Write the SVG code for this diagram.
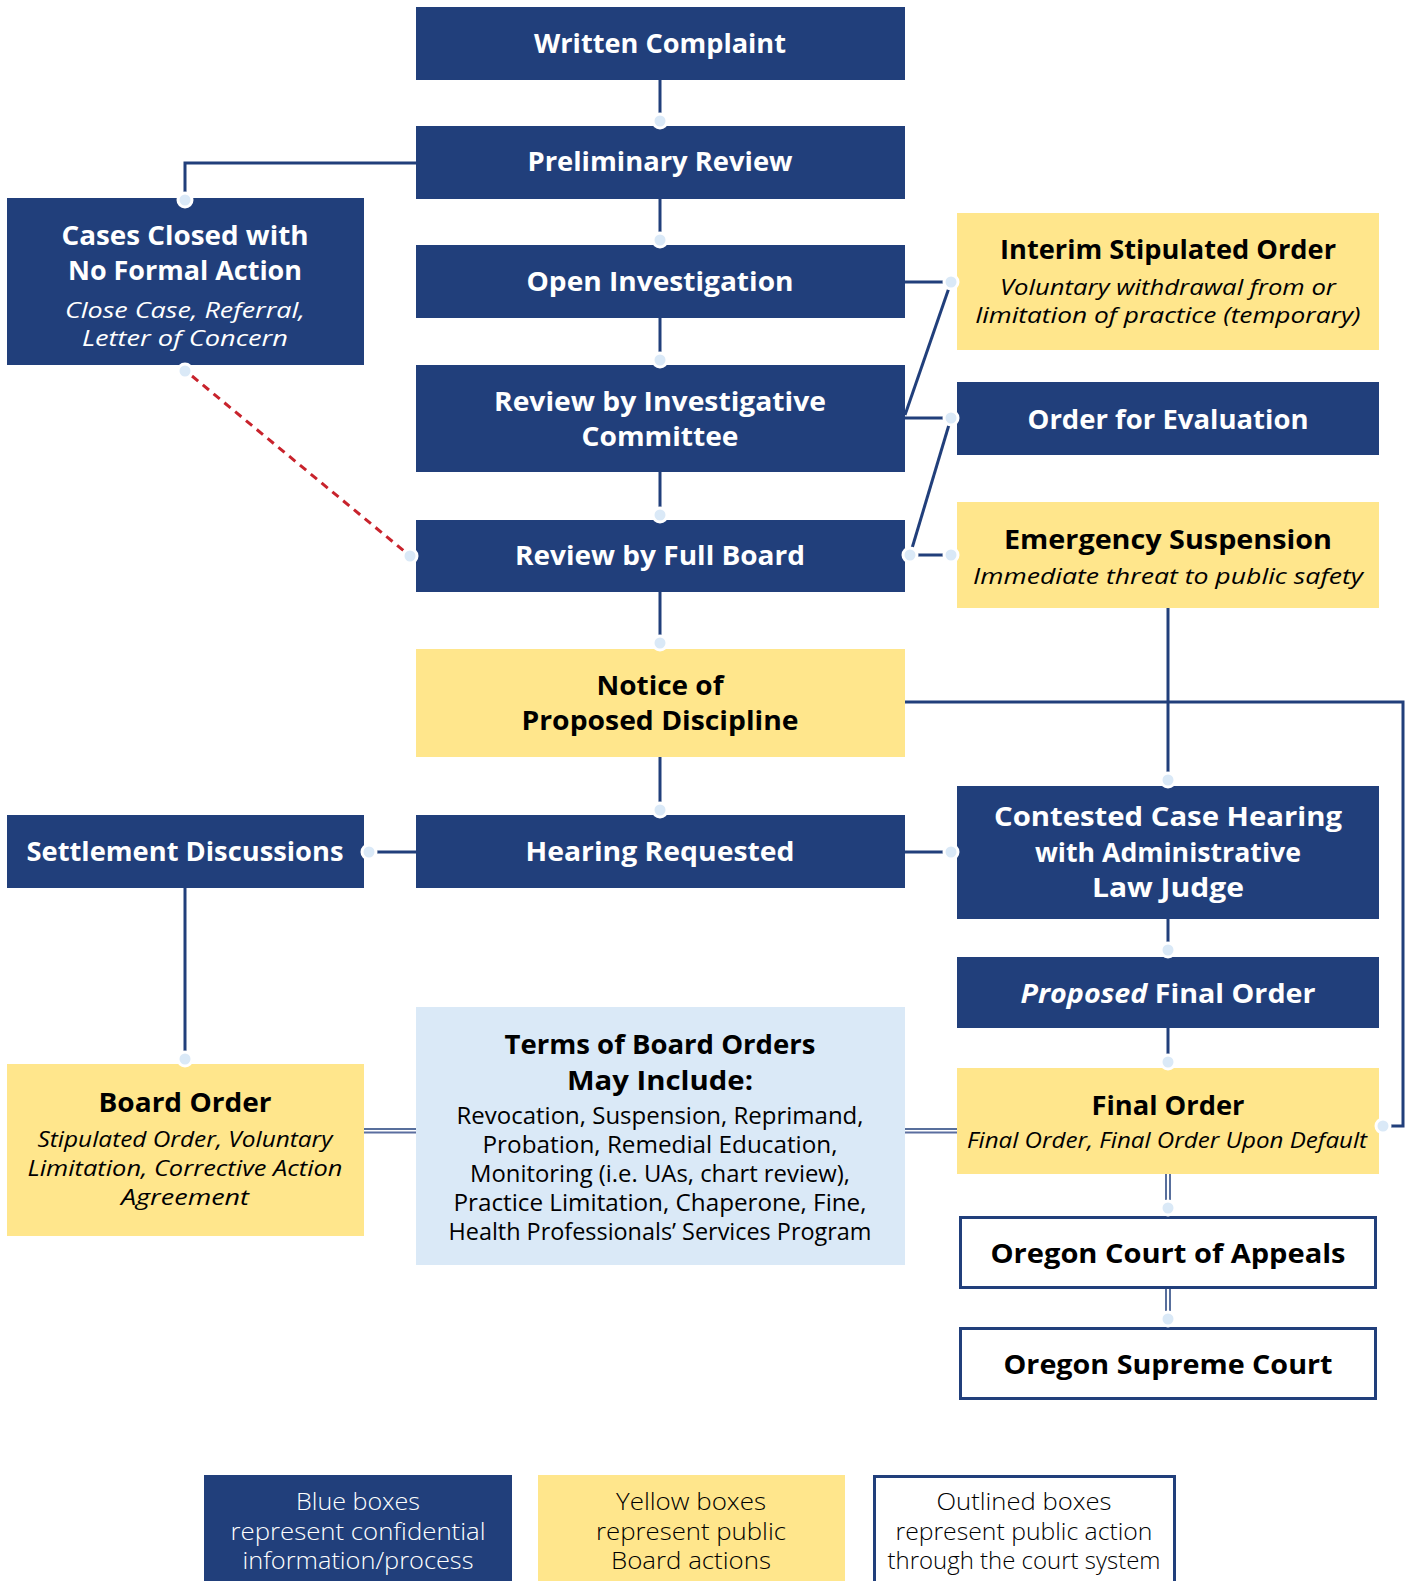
<svg xmlns="http://www.w3.org/2000/svg" width="1413" height="1581" viewBox="0 0 1413 1581">
<style>
.nb{fill:#213F7B}
.ny{fill:#FFE68C}
.nl{fill:#DAE9F7}
.no{fill:#fff;stroke:#213F7B;stroke-width:3}
.t{font-family:"Open Sans","DejaVu Sans",sans-serif;font-weight:700;font-size:27px;text-anchor:middle}
.w{fill:#fff}
.k{fill:#000}
.i{font-style:italic;font-weight:400;font-size:21px}
.r{font-weight:400;font-size:23px}
.lg{font-weight:300;font-size:23px}
.c{stroke:#213F7B;stroke-width:3;fill:none}
.d{fill:#DAE9F7;stroke:#fff;stroke-width:3}
.red{stroke:#C8232C;stroke-width:3;fill:none;stroke-dasharray:8 6}
.dl1{stroke:#213F7B;stroke-width:1.5;fill:none}
.dl2{stroke:#5B6E9F;stroke-width:2;fill:none}
</style>
<rect width="1413" height="1581" fill="#fff"/>
<g id="connectors">
<line class="c" x1="660" y1="80" x2="660" y2="121"/>
<line class="c" x1="660" y1="199" x2="660" y2="240"/>
<line class="c" x1="660" y1="318" x2="660" y2="360"/>
<line class="c" x1="660" y1="472" x2="660" y2="515"/>
<line class="c" x1="660" y1="592" x2="660" y2="643"/>
<line class="c" x1="660" y1="757" x2="660" y2="810"/>
<polyline class="c" points="416,163 185,163 185,200"/>
<line class="red" x1="192" y1="376" x2="404" y2="551"/>
<line class="c" x1="905" y1="282" x2="951" y2="282"/>
<line class="c" x1="951" y1="282" x2="905" y2="415"/>
<line class="c" x1="905" y1="418" x2="951" y2="418"/>
<line class="c" x1="951" y1="418" x2="910" y2="555"/>
<line class="c" x1="910" y1="555" x2="951" y2="555"/>
<line class="c" x1="416" y1="852" x2="369" y2="852"/>
<line class="c" x1="905" y1="852" x2="951" y2="852"/>
<line class="c" x1="185" y1="888" x2="185" y2="1059"/>
<line class="c" x1="1168" y1="608" x2="1168" y2="780"/>
<polyline class="c" points="905,702 1403,702 1403,1126 1383,1126"/>
<line class="c" x1="1168" y1="919" x2="1168" y2="950"/>
<line class="c" x1="1168" y1="1028" x2="1168" y2="1062"/>
<line class="dl1" x1="364" y1="1129" x2="416" y2="1129"/>
<line class="dl2" x1="364" y1="1132.5" x2="416" y2="1132.5"/>
<line class="dl1" x1="905" y1="1129" x2="957" y2="1129"/>
<line class="dl2" x1="905" y1="1132.5" x2="957" y2="1132.5"/>
<line class="dl1" x1="1166" y1="1174" x2="1166" y2="1208"/>
<line class="dl1" x1="1170" y1="1174" x2="1170" y2="1208"/>
<line class="dl1" x1="1166" y1="1289" x2="1166" y2="1319"/>
<line class="dl1" x1="1170" y1="1289" x2="1170" y2="1319"/>
</g>
<g id="written-complaint"><rect class="nb" x="416" y="7" width="489" height="73"/><text class="t w" x="660" y="53" textLength="252" lengthAdjust="spacingAndGlyphs">Written Complaint</text></g>
<g id="preliminary-review"><rect class="nb" x="416" y="126" width="489" height="73"/><text class="t w" x="660" y="171" textLength="265" lengthAdjust="spacingAndGlyphs">Preliminary Review</text></g>
<g id="open-investigation"><rect class="nb" x="416" y="245" width="489" height="73"/><text class="t w" x="660" y="291" textLength="267" lengthAdjust="spacingAndGlyphs">Open Investigation</text></g>
<g id="review-investigative"><rect class="nb" x="416" y="365" width="489" height="107"/><text class="t w" x="660" y="411" textLength="332" lengthAdjust="spacingAndGlyphs">Review by Investigative</text><text class="t w" x="660" y="446" textLength="157" lengthAdjust="spacingAndGlyphs">Committee</text></g>
<g id="review-full-board"><rect class="nb" x="416" y="520" width="489" height="72"/><text class="t w" x="660" y="565" textLength="290" lengthAdjust="spacingAndGlyphs">Review by Full Board</text></g>
<g id="notice"><rect class="ny" x="416" y="649" width="489" height="108"/><text class="t k" x="660" y="695" textLength="127" lengthAdjust="spacingAndGlyphs">Notice of</text><text class="t k" x="660" y="730" textLength="277" lengthAdjust="spacingAndGlyphs">Proposed Discipline</text></g>
<g id="hearing-requested"><rect class="nb" x="416" y="815" width="489" height="73"/><text class="t w" x="660" y="861" textLength="269" lengthAdjust="spacingAndGlyphs">Hearing Requested</text></g>
<g id="terms"><rect class="nl" x="416" y="1007" width="489" height="258"/>
<text class="t k" x="660" y="1054" textLength="311" lengthAdjust="spacingAndGlyphs">Terms of Board Orders</text><text class="t k" x="660" y="1090" textLength="186" lengthAdjust="spacingAndGlyphs">May Include:</text>
<text class="t k r" x="660" y="1124" textLength="407" lengthAdjust="spacingAndGlyphs">Revocation, Suspension, Reprimand,</text>
<text class="t k r" x="660" y="1153" textLength="355" lengthAdjust="spacingAndGlyphs">Probation, Remedial Education,</text>
<text class="t k r" x="660" y="1182" textLength="380" lengthAdjust="spacingAndGlyphs">Monitoring (i.e. UAs, chart review),</text>
<text class="t k r" x="660" y="1211" textLength="413" lengthAdjust="spacingAndGlyphs">Practice Limitation, Chaperone, Fine,</text>
<text class="t k r" x="660" y="1240" textLength="423" lengthAdjust="spacingAndGlyphs">Health Professionals’ Services Program</text></g>
<g id="cases-closed"><rect class="nb" x="7" y="198" width="357" height="167"/><text class="t w" x="185" y="245" textLength="247" lengthAdjust="spacingAndGlyphs">Cases Closed with</text><text class="t w" x="185" y="280" textLength="234" lengthAdjust="spacingAndGlyphs">No Formal Action</text><text class="t w i" x="185" y="318" textLength="240" lengthAdjust="spacingAndGlyphs">Close Case, Referral,</text><text class="t w i" x="185" y="346" textLength="206" lengthAdjust="spacingAndGlyphs">Letter of Concern</text></g>
<g id="settlement"><rect class="nb" x="7" y="815" width="357" height="73"/><text class="t w" x="185" y="861" textLength="317" lengthAdjust="spacingAndGlyphs">Settlement Discussions</text></g>
<g id="board-order"><rect class="ny" x="7" y="1064" width="357" height="172"/><text class="t k" x="185" y="1112" textLength="173" lengthAdjust="spacingAndGlyphs">Board Order</text><text class="t k i" x="185" y="1147" textLength="295" lengthAdjust="spacingAndGlyphs">Stipulated Order, Voluntary</text><text class="t k i" x="185" y="1176" textLength="315" lengthAdjust="spacingAndGlyphs">Limitation, Corrective Action</text><text class="t k i" x="185" y="1205" textLength="128" lengthAdjust="spacingAndGlyphs">Agreement</text></g>
<g id="interim"><rect class="ny" x="957" y="213" width="422" height="137"/><text class="t k" x="1168" y="259" textLength="336" lengthAdjust="spacingAndGlyphs">Interim Stipulated Order</text><text class="t k i" x="1168" y="295" textLength="336" lengthAdjust="spacingAndGlyphs">Voluntary withdrawal from or</text><text class="t k i" x="1168" y="323" textLength="385" lengthAdjust="spacingAndGlyphs">limitation of practice (temporary)</text></g>
<g id="order-evaluation"><rect class="nb" x="957" y="382" width="422" height="73"/><text class="t w" x="1168" y="429" textLength="281" lengthAdjust="spacingAndGlyphs">Order for Evaluation</text></g>
<g id="emergency"><rect class="ny" x="957" y="502" width="422" height="106"/><text class="t k" x="1168" y="549" textLength="328" lengthAdjust="spacingAndGlyphs">Emergency Suspension</text><text class="t k i" x="1168" y="584" textLength="390" lengthAdjust="spacingAndGlyphs">Immediate threat to public safety</text></g>
<g id="contested"><rect class="nb" x="957" y="786" width="422" height="133"/><text class="t w" x="1168" y="826" textLength="348" lengthAdjust="spacingAndGlyphs">Contested Case Hearing</text><text class="t w" x="1168" y="862" textLength="266" lengthAdjust="spacingAndGlyphs">with Administrative</text><text class="t w" x="1168" y="897" textLength="152" lengthAdjust="spacingAndGlyphs">Law Judge</text></g>
<g id="proposed-final"><rect class="nb" x="957" y="957" width="422" height="71"/><text class="t w" x="1168" y="1003" textLength="295" lengthAdjust="spacingAndGlyphs"><tspan font-style="italic">Proposed</tspan> Final Order</text></g>
<g id="final-order"><rect class="ny" x="957" y="1068" width="422" height="106"/><text class="t k" x="1168" y="1115" textLength="153" lengthAdjust="spacingAndGlyphs">Final Order</text><text class="t k i" x="1167" y="1148" textLength="400" lengthAdjust="spacingAndGlyphs">Final Order, Final Order Upon Default</text></g>
<g id="court-appeals"><rect class="no" x="960.5" y="1217.5" width="415" height="70"/><text class="t k" x="1168" y="1263" textLength="355" lengthAdjust="spacingAndGlyphs">Oregon Court of Appeals</text></g>
<g id="supreme-court"><rect class="no" x="960.5" y="1328.5" width="415" height="70"/><text class="t k" x="1168" y="1374" textLength="329" lengthAdjust="spacingAndGlyphs">Oregon Supreme Court</text></g>
<g id="dots">
<circle class="d" cx="660" cy="121" r="7"/>
<circle class="d" cx="660" cy="240" r="7"/>
<circle class="d" cx="660" cy="360" r="7"/>
<circle class="d" cx="660" cy="515" r="7"/>
<circle class="d" cx="660" cy="643" r="7"/>
<circle class="d" cx="660" cy="810" r="7"/>
<circle class="d" cx="185" cy="200" r="7"/>
<circle class="d" cx="185" cy="371" r="7"/>
<circle class="d" cx="410" cy="556" r="7"/>
<circle class="d" cx="951" cy="282" r="7"/>
<circle class="d" cx="951" cy="418" r="7"/>
<circle class="d" cx="910" cy="555" r="7"/>
<circle class="d" cx="951" cy="555" r="7"/>
<circle class="d" cx="369" cy="852" r="7"/>
<circle class="d" cx="951" cy="852" r="7"/>
<circle class="d" cx="185" cy="1059" r="7"/>
<circle class="d" cx="1168" cy="780" r="7"/>
<circle class="d" cx="1383" cy="1126" r="7"/>
<circle class="d" cx="1168" cy="950" r="7"/>
<circle class="d" cx="1168" cy="1062" r="7"/>
<circle class="d" cx="1168" cy="1208" r="7"/>
<circle class="d" cx="1168" cy="1319" r="7"/>
</g>
<g id="legend">
<g id="legend-blue"><rect class="nb" x="204" y="1475" width="308" height="110"/><text class="t w lg" x="358" y="1510" textLength="124" lengthAdjust="spacingAndGlyphs">Blue boxes</text><text class="t w lg" x="358" y="1540" textLength="255" lengthAdjust="spacingAndGlyphs">represent confidential</text><text class="t w lg" x="358" y="1569" textLength="231" lengthAdjust="spacingAndGlyphs">information/process</text></g>
<g id="legend-yellow"><rect class="ny" x="538" y="1475" width="307" height="110"/><text class="t k lg" x="691" y="1510" textLength="150" lengthAdjust="spacingAndGlyphs">Yellow boxes</text><text class="t k lg" x="691" y="1540" textLength="190" lengthAdjust="spacingAndGlyphs">represent public</text><text class="t k lg" x="691" y="1569" textLength="160" lengthAdjust="spacingAndGlyphs">Board actions</text></g>
<g id="legend-outlined"><rect class="no" x="874.5" y="1476.5" width="300" height="110"/><text class="t k lg" x="1024" y="1510" textLength="175" lengthAdjust="spacingAndGlyphs">Outlined boxes</text><text class="t k lg" x="1024" y="1540" textLength="257" lengthAdjust="spacingAndGlyphs">represent public action</text><text class="t k lg" x="1024" y="1569" textLength="273" lengthAdjust="spacingAndGlyphs">through the court system</text></g>
</g>
</svg>
